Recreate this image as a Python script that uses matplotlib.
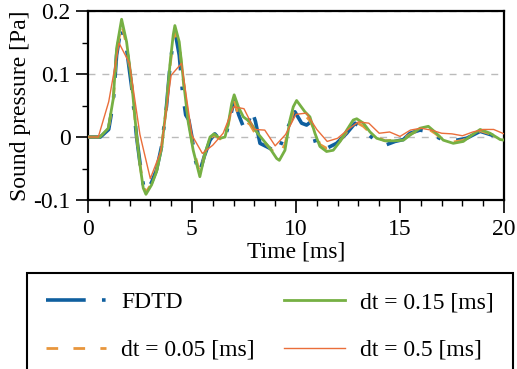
import matplotlib.pyplot as plt
from matplotlib.ticker import MultipleLocator

plt.rcParams['font.family'] = ['Liberation Serif', 'DejaVu Serif']
plt.rcParams['mathtext.fontset'] = 'stix'

# FDTD (reference)
t_fdtd = [0, 0.6, 1.0, 1.22, 1.38, 1.6, 1.86, 2.1, 2.34, 2.5, 2.66, 2.8, 3.06, 3.3, 3.54,
          3.78, 3.94, 4.1, 4.2, 4.39, 4.55, 4.7, 4.85, 5.0, 5.15, 5.35, 5.6, 5.87, 6.1,
          6.35, 6.59, 6.8, 7.03, 7.25, 7.5, 7.63, 7.87, 8.05, 8.27, 8.75, 9.1, 9.55,
          9.95, 10.27, 10.51, 10.67, 10.99, 11.47, 11.95, 12.44, 12.84, 13.24, 13.8,
          14.28, 14.76, 15.16, 15.48, 15.96, 16.28, 16.6, 17.08, 17.4, 18.2, 18.85,
          19.33, 19.81, 20.0]
p_fdtd = [0, 0, 0.012, 0.055, 0.13, 0.175, 0.14, 0.08, 0.0, -0.04, -0.075, -0.087, -0.072,
          -0.052, -0.015, 0.05, 0.11, 0.155, 0.165, 0.13, 0.07, 0.035, 0.027, 0.0, -0.035,
          -0.058, -0.03, -0.005, 0.005, -0.004, -0.002, 0.025, 0.059, 0.035, 0.014, 0.01,
          0.043, 0.025, -0.01, -0.018, -0.026, 0.011, 0.040, 0.022, 0.019, 0.023, -0.015,
          -0.018, -0.010, 0.006, 0.022, 0.011, -0.005, -0.013, -0.007, -0.004, 0.006,
          0.011, 0.009, 0.003, -0.005, -0.007, -0.002, 0.009, 0.004, -0.002, -0.001]

# dt = 0.15 ms
t_015 = [0, 0.58, 0.98, 1.22, 1.38, 1.62, 1.86, 2.1, 2.34, 2.5, 2.66, 2.79, 3.06, 3.3, 3.54,
         3.78, 3.94, 4.1, 4.18, 4.39, 4.58, 4.82, 5.06, 5.38, 5.63, 5.87, 6.06, 6.35, 6.59,
         6.75, 6.91, 7.03, 7.23, 7.47, 7.79, 8.11, 8.43, 8.75, 9.07, 9.2, 9.47, 9.71, 9.87,
         10.03, 10.43, 10.67, 10.91, 11.15, 11.47, 11.79, 12.12, 12.44, 12.75, 12.92,
         13.24, 13.56, 13.88, 14.28, 14.76, 15.16, 15.48, 15.96, 16.36, 16.68, 17.08,
         17.56, 18.04, 18.45, 18.85, 19.33, 19.81, 20.0]
p_015 = [0, 0, 0.014, 0.061, 0.141, 0.187, 0.151, 0.088, 0.003, -0.044, -0.081, -0.091,
         -0.076, -0.055, -0.018, 0.051, 0.114, 0.162, 0.177, 0.151, 0.093, 0.024, -0.021,
         -0.063, -0.026, 0.0, 0.005, -0.002, 0.0, 0.022, 0.053, 0.067, 0.048, 0.032, 0.024,
         0.008, -0.005, -0.018, -0.034, -0.037, -0.021, 0.027, 0.048, 0.058, 0.040, 0.032,
         0.006, -0.015, -0.023, -0.021, -0.007, 0.011, 0.027, 0.029, 0.022, 0.008, -0.002,
         -0.006, -0.006, -0.005, 0.003, 0.014, 0.017, 0.008, -0.005, -0.010, -0.007, 0.003,
         0.012, 0.006, -0.004, -0.005]

# dt = 0.05 ms
t_005 = t_015
p_005 = [0, 0, 0.013, 0.058, 0.136, 0.18, 0.146, 0.084, 0.002, -0.042, -0.078, -0.088,
         -0.074, -0.053, -0.016, 0.05, 0.11, 0.156, 0.166, 0.148, 0.09, 0.03, -0.018,
         -0.058, -0.026, -0.002, 0.003, -0.003, 0.0, 0.02, 0.048, 0.058, 0.035, 0.028, 0.02,
         0.002, -0.006, -0.018, -0.028, -0.028, -0.012, 0.022, 0.040, 0.042, 0.035, 0.026,
         0.01, -0.012, -0.018, -0.016, -0.006, 0.008, 0.021, 0.023, 0.017, 0.007, 0.0,
         -0.006, -0.005, -0.003, 0.004, 0.012, 0.013, 0.006, -0.004, -0.008, -0.005, 0.003,
         0.010, 0.005, -0.002, -0.003]

# dt = 0.5 ms
t_05 = [0, 0.5, 1.0, 1.5, 2.0, 2.5, 3.0, 3.5, 4.0, 4.5, 5.0, 5.5, 6.0, 6.5, 7.0, 7.5, 8.0,
        8.5, 9.0, 9.5, 10.0, 10.5, 11.0, 11.5, 12.0, 12.5, 13.0, 13.5, 14.0, 14.5, 15.0,
        15.5, 16.0, 16.5, 17.0, 17.5, 18.0, 18.5, 19.0, 19.5, 20.0]
p_05 = [0, 0, 0.056, 0.149, 0.117, 0.004, -0.066, -0.023, 0.098, 0.117, 0.003, -0.026,
        -0.013, 0.006, 0.048, 0.045, 0.012, 0.011, -0.014, 0.004, 0.036, 0.038, 0.012,
        -0.007, -0.002, 0.012, 0.024, 0.022, 0.006, 0.008, 0.001, 0.011, 0.014, 0.011,
        0.006, 0.005, 0.002, 0.008, 0.012, 0.012, 0.005]

fig = plt.figure(figsize=(5.17, 3.69), dpi=100)
ax = fig.add_axes([0.170, 0.458, 0.805, 0.512])

ax.plot(t_fdtd, p_fdtd, color='#0F5F9F', lw=2.6, linestyle=(0, (11, 4.5, 1, 4.5)),
        label='FDTD', zorder=3)
ax.plot(t_005, p_005, color='#E8963C', lw=2.0, linestyle=(0, (4.2, 5.5)),
        label='dt = 0.05 [ms]', zorder=4)
ax.plot(t_015, p_015, color='#76B043', lw=2.0, label='dt = 0.15 [ms]', zorder=5)
ax.plot(t_05, p_05, color='#EA6E3A', lw=1.0, label='dt = 0.5 [ms]', zorder=6)

ax.set_xlim(0, 20)
ax.set_ylim(-0.1, 0.2)
ax.set_xticks([0, 5, 10, 15, 20])
ax.set_yticks([-0.1, 0, 0.1, 0.2])
ax.set_yticklabels(['-0.1', '0', '0.1', '0.2'])
ax.xaxis.set_minor_locator(MultipleLocator(1))
ax.yaxis.set_minor_locator(MultipleLocator(0.05))
ax.tick_params(which='major', direction='out', length=8.5, width=1.2, labelsize=17, pad=4)
ax.tick_params(which='minor', direction='out', length=4.5, width=1.0)
ax.tick_params(axis='x', which='major', length=9, pad=5)
ax.tick_params(top=False, right=False)
for s in ax.spines.values():
    s.set_linewidth(1.6)
ax.grid(axis='y', which='major', color='#BBBBBB', linestyle=(0, (5, 5)), lw=1.0, zorder=1)

ax.set_xlabel('Time [ms]', fontsize=17, labelpad=1)
ax.set_ylabel('Sound pressure [Pa]', fontsize=17, labelpad=2)

leg = fig.legend(loc='upper left', bbox_to_anchor=(0.052, 0.260), ncol=2, fontsize=17,
                 frameon=True, fancybox=False, edgecolor='black', framealpha=1,
                 handlelength=2.55, handletextpad=0.65, columnspacing=1.25,
                 labelspacing=1.1, borderpad=0.8, borderaxespad=0)
leg.get_frame().set_linewidth(1.5)

fig.savefig('out.png', dpi=100)
